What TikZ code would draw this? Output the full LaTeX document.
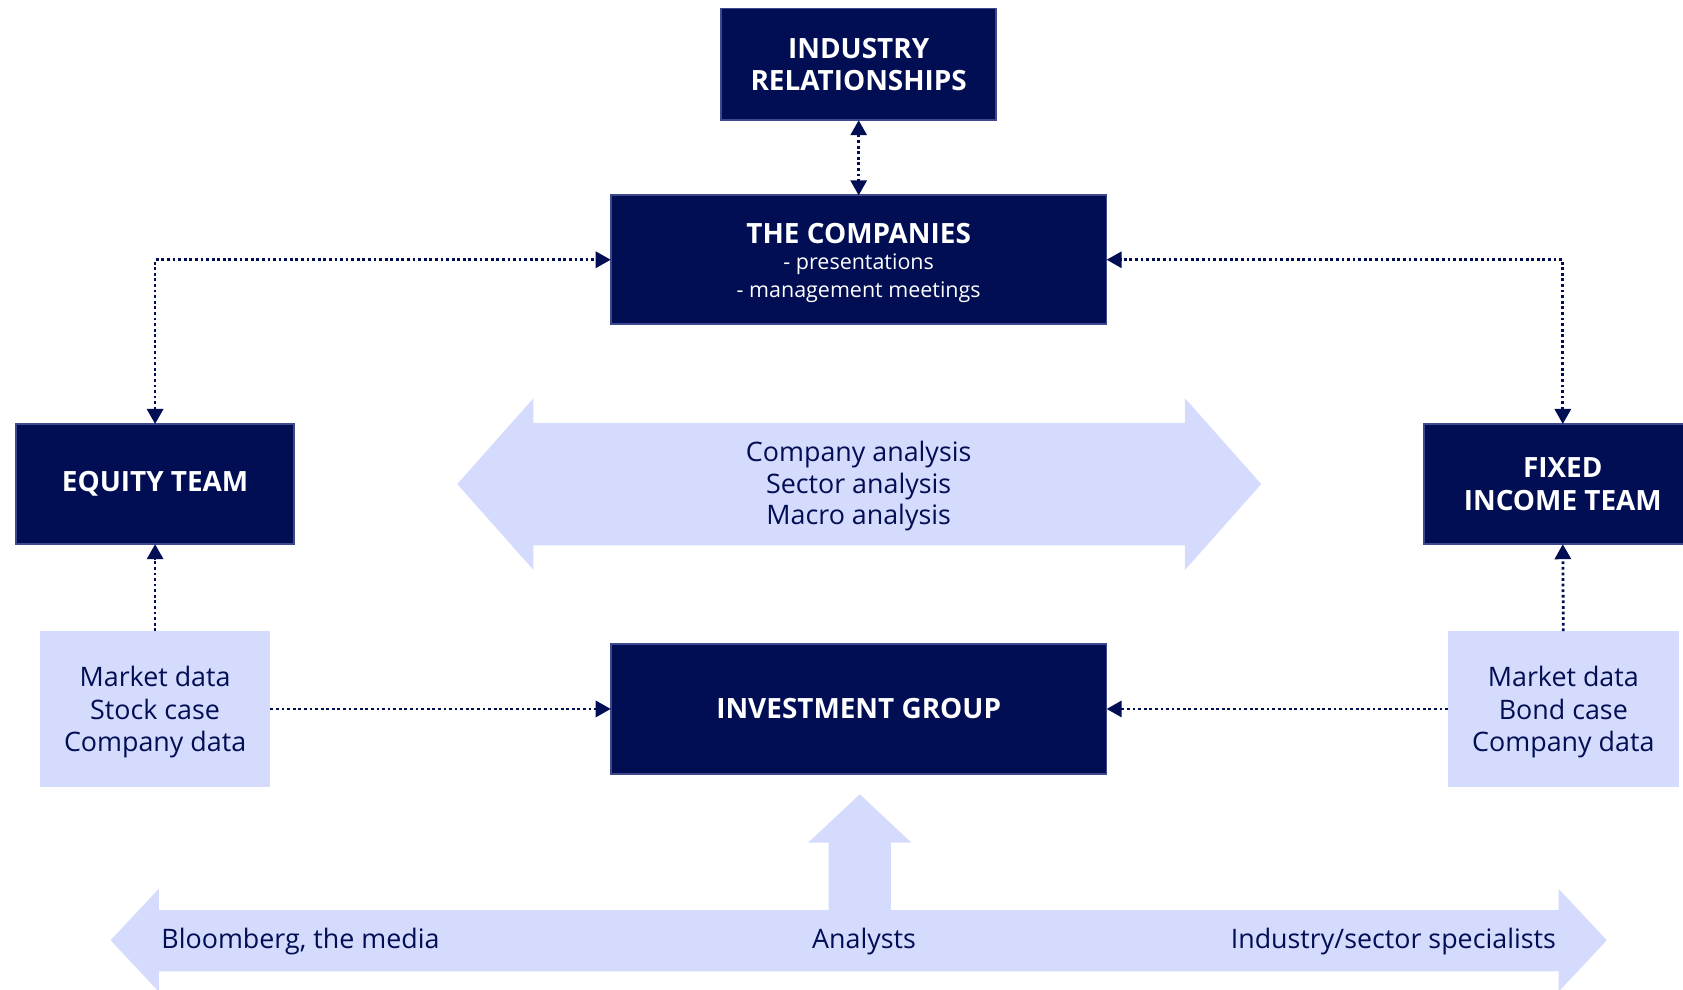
\documentclass[tikz,border=0pt]{standalone}
\usepackage{fontspec}
\setmainfont{Open Sans}
\usetikzlibrary{arrows.meta}

\definecolor{navy}{RGB}{1,14,84}
\definecolor{navyedge}{RGB}{62,72,140}
\definecolor{pale}{RGB}{213,219,252}

\begin{document}
\begin{tikzpicture}[x=0.5pt, y=-0.5pt]
      \tikzstyle{team}=[rectangle, fill=navy, draw=navyedge, line width=0.8pt,
        text=white, font=\fontsize{13}{15}\selectfont\bfseries, align=center,
        inner sep=0pt, outer sep=0pt]
      \tikzstyle{source}=[rectangle, fill=pale, inner sep=0pt, outer sep=0pt,
        minimum width=107.5pt, minimum height=72.5pt]
      \tikzstyle{link}=[navy, line width=1.3pt, dash pattern=on 1.3pt off 1.3pt,
        -{Triangle[length=7pt, width=7.5pt]}]
      \tikzstyle{twoway}=[link, {Triangle[length=7pt, width=7.5pt]}-{Triangle[length=7pt, width=7.5pt]}]
      \tikzstyle{flow}=[fill=pale, draw=none]
      \tikzstyle{label}=[text=navy, inner sep=0pt, align=center,
        font=\fontsize{12.5}{15}\selectfont]

      \useasboundingbox (0,0) rectangle (1568,922);

      % top boxes
      \node[team, minimum width=128pt, minimum height=52pt] (ind) at (800,60)
        {INDUSTRY\\RELATIONSHIPS};
      \node[team, minimum width=231pt, minimum height=60pt] (comp) at (800,242) {};
      \node[team, draw=none, fill=none] (comptext) at (800,245)
        {THE COMPANIES\\[-3pt]
        {\mdseries\fontsize{10}{12}\selectfont - presentations}\\[-2pt]
        {\mdseries\fontsize{10}{12}\selectfont - management meetings}};

      % the two teams
      \node[team, minimum width=129.5pt, minimum height=56pt] (eq) at (144.5,451)
        {EQUITY TEAM};
      \node[team, minimum width=129.5pt, minimum height=56pt] (fi) at (1456,451)
        {FIXED\\INCOME TEAM};

      % analysis arrow
      \fill[flow] (426,451) -- (497,371) -- (497,394) -- (1104,394) -- (1104,371)
        -- (1175,451) -- (1104,531) -- (1104,508) -- (497,508) -- (497,531) -- cycle;
      \node[label, font=\fontsize{12.5}{14.75}\selectfont]
        (analysis) at (800,453) {Company analysis\\Sector analysis\\Macro analysis};

      % data boxes and investment group
      \node[source] (eqdata) at (144.5,660.5) {};
      \node[label] (eqdatatext) at (144.5,663.5) {Market data\\Stock case\\Company data};
      \node[source] (fidata) at (1456.5,660.5) {};
      \node[label] (fidatatext) at (1456.5,663.5) {Market data\\Bond case\\Company data};
      \node[team, minimum width=231pt, minimum height=60.5pt] (ig) at (800,660.5)
        {INVESTMENT GROUP};

      % bottom arrow with branch up
      \fill[flow] (103,876) -- (148,828) -- (148,848) -- (772,848) -- (772,785)
        -- (753,785) -- (801,740) -- (849,785) -- (830,785) -- (830,848)
        -- (1452,848) -- (1452,828) -- (1497,876) -- (1452,924) -- (1452,905)
        -- (148,905) -- (148,924) -- cycle;
      \node[label, anchor=west] (media) at (150,877) {Bloomberg, the media};
      \node[label] (analysts) at (805,877) {Analysts};
      \node[label, anchor=east] (specialists) at (1450,877) {Industry/sector specialists};

      % connectors
      \draw[twoway] (ind.south) -- (comp.north);
      \draw[twoway] (eq.north) |- (comp.west);
      \draw[twoway] (fi.north) |- (comp.east);
      \draw[link] (eqdata.north) -- (eq.south);
      \draw[link] (fidata.north) -- (fi.south);
      \draw[link] (eqdata.east) -- (ig.west);
      \draw[link] (fidata.west) -- (ig.east);
    \end{tikzpicture}
\end{document}
